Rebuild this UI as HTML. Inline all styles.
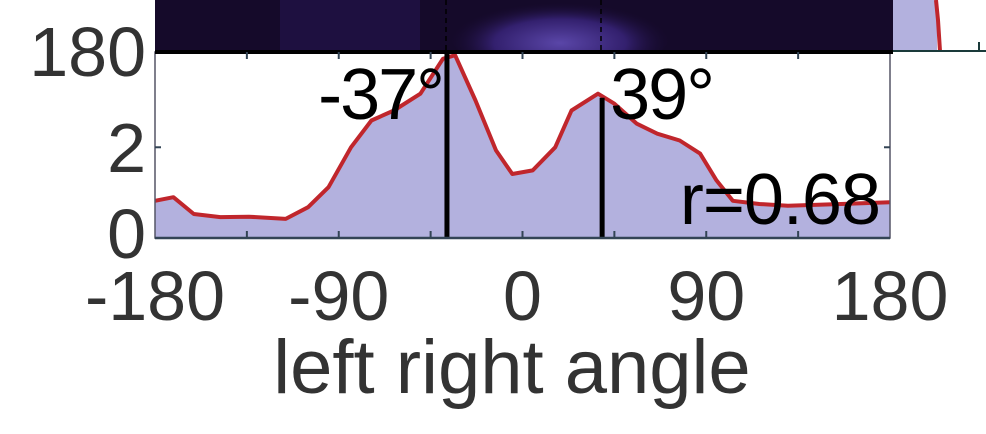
<!DOCTYPE html>
<html><head><meta charset="utf-8"><style>
html,body{margin:0;padding:0;background:#fff;}
svg{display:block;font-family:"Liberation Sans",sans-serif;}
</style></head><body>
<svg id="chart" width="986" height="434">
<defs>
<radialGradient id="blob" cx="0.5" cy="0.6" r="0.5">
<stop offset="0" stop-color="#5a46a8"/><stop offset="0.6" stop-color="#33206e"/><stop offset="1" stop-color="#1a0c36" stop-opacity="0"/>
</radialGradient>
<clipPath id="hm"><rect x="155" y="0" width="738" height="52"/></clipPath>
</defs>
<g clip-path="url(#hm)">
<rect x="155" y="0" width="738" height="52" fill="#150a2a"/>
<rect x="280" y="0" width="140" height="52" fill="#22124a" opacity="0.7"/>
<ellipse cx="560" cy="35" rx="110" ry="40" fill="url(#blob)"/>
<line x1="601" y1="0" x2="601" y2="52" stroke="#000" stroke-width="1.5" stroke-dasharray="5,4"/>
<line x1="446" y1="0" x2="446" y2="52" stroke="#000" stroke-width="1.5" stroke-dasharray="5,4"/>
</g>
<g>
<rect x="893" y="0" width="44" height="51" fill="#b3b1de"/>
<path d="M936,0 L938,20 L940,51" stroke="#c0262c" stroke-width="4" fill="none"/>
<line x1="893" y1="51" x2="986" y2="51" stroke="#1a3a3a" stroke-width="2"/>
<line x1="979" y1="42" x2="979" y2="51" stroke="#1a3a3a" stroke-width="2"/>
</g>
<g id="plot"></g>
<g font-size="70" fill="#333" text-anchor="end">
<text x="146" y="76">180</text>
<text x="146" y="172">2</text>
<text x="146" y="258">0</text>
</g>
<g id="xlabels" font-size="70" fill="#333" text-anchor="middle"></g>
<text x="512" y="393" font-size="76" fill="#333" text-anchor="middle">left right angle</text>
</svg>
<script>
const angles=[-180,-171,-161,-148,-134,-116,-105,-95,-84,-74,-63,-50,-39,-33,-23,-13,-5,5,16,24,37,45,56,66,77,87,95,103,116,130,156,180];
const values=[0.82,0.9,0.53,0.46,0.47,0.42,0.68,1.12,2.0,2.59,2.81,3.18,3.95,4.03,3.03,1.93,1.41,1.49,2.0,2.81,3.18,2.96,2.52,2.3,2.15,1.86,1.27,0.82,0.75,0.71,0.75,0.79];
const peakAngles=[-37,39];
const peakLabels=["-37°","39°"];
const xTickLabels=[-180,-90,0,90,180];
const rText="r=0.68";
const X0=155,X1=890,Y0=238,Y1=52,VMAX=4.1;
const xs=a=>X0+(a+180)/360*(X1-X0);
const ys=v=>Y0-v/VMAX*(Y0-Y1);
const NS="http://www.w3.org/2000/svg";
const g=document.getElementById('plot');
function mk(t,attrs,parent){const e=document.createElementNS(NS,t);for(const k in attrs)e.setAttribute(k,attrs[k]);(parent||g).appendChild(e);return e;}
let d=angles.map((a,i)=>(i?'L':'M')+xs(a).toFixed(1)+','+ys(values[i]).toFixed(1)).join(' ');
const area=mk('path',{d:d+` L${X1},${Y0} L${X0},${Y0} Z`,fill:'#b3b1de'});


const line=mk('path',{d:d,fill:'none',stroke:'#c0262c','stroke-width':4,'stroke-linejoin':'round'});


peakAngles.forEach((p,i)=>{
  let k=0;let best=1e9;angles.forEach((a,j)=>{if(Math.abs(a-p)<best){best=Math.abs(a-p);k=j;}});
  const top=i===0?Y1:ys(values[k])+4;
  const l=mk('line',{x1:xs(p),x2:xs(p),y1:top,y2:Y0,stroke:'#000','stroke-width':5});
  
  
  const t=mk('text',{x:i===0?xs(p)-4:xs(p)+8,y:119,'font-size':72,fill:'#000','text-anchor':i===0?'end':'start','letter-spacing':-2});
  t.textContent=peakLabels[i];
  
  
});
const r=mk('text',{x:880,y:224,'font-size':72,fill:'#000','text-anchor':'end','letter-spacing':-1});
r.textContent=rText;


const frame=mk('rect',{x:X0,y:Y1,width:X1-X0,height:Y0-Y1,fill:'none',stroke:'#556','stroke-width':1.5});


mk('line',{x1:X0,x2:X1+3,y1:Y1,y2:Y1,stroke:'#000','stroke-width':4});
mk('line',{x1:X0,x2:X1,y1:Y0,y2:Y0,stroke:'#345','stroke-width':2.5});
for(let a=-135;a<180;a+=45){
  mk('line',{x1:xs(a),x2:xs(a),y1:Y0,y2:Y0-7,stroke:'#345','stroke-width':2});
  mk('line',{x1:xs(a),x2:xs(a),y1:Y1,y2:Y1+7,stroke:'#345','stroke-width':2});
}
mk('line',{x1:X0,x2:X0+6,y1:ys(2),y2:ys(2),stroke:'#345','stroke-width':2});
mk('line',{x1:X1,x2:X1-6,y1:ys(2),y2:ys(2),stroke:'#345','stroke-width':2});
const xl=document.getElementById('xlabels');
xTickLabels.forEach(v=>{
  const t=mk('text',{x:xs(v),y:320},xl);
  t.textContent=v;
  
  
});
</script>
</body></html>
